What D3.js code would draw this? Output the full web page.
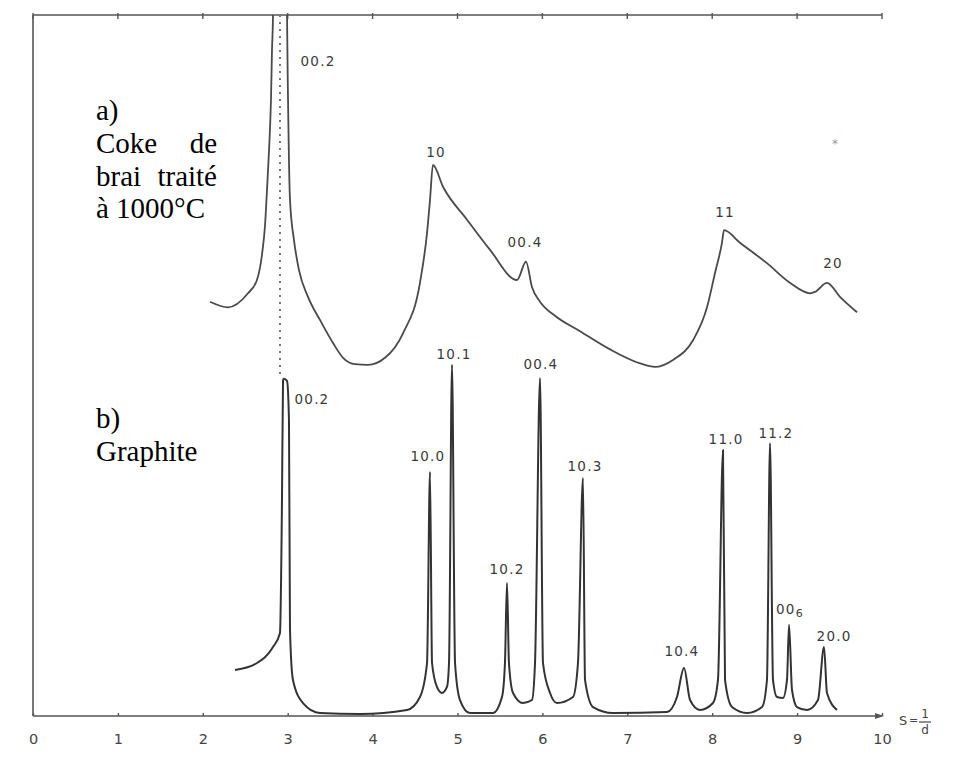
<!DOCTYPE html>
<html><head><meta charset="utf-8">
<script src="https://cdn.jsdelivr.net/npm/d3@7"></script>
<style>
html,body{margin:0;padding:0;background:#fff;}
svg{display:block;}
</style></head>
<body>
<svg id="chart" width="957" height="760"></svg>
<script>
// ---------- data ----------
const sTicks = [0,1,2,3,4,5,6,7,8,9,10];
const sTickLabels = ["0","1","2","3","4","5","6","7","8","9","10"];

// a) Coke de brai traité à 1000°C  (s = 1/d, intensity in arbitrary units)
const cokeS = [2.085,2.297,2.532,2.638,2.697,2.733,2.756,2.780,2.803,2.815,2.827,2.835,2.985,2.992,3.004,3.027,3.074,3.133,3.239,3.380,3.534,3.652,3.793,3.946,4.146,4.358,4.558,4.641,4.676,4.711,4.829,5.112,5.383,5.701,5.807,5.877,5.972,6.148,6.443,6.796,7.150,7.326,7.538,7.774,7.939,8.033,8.115,8.139,8.327,8.645,8.916,9.152,9.211,9.352,9.505,9.706];
const cokeI = [59.1,58.3,60.3,62.2,65.8,70.0,75.0,80.7,87.9,95.0,100,115,115,100,87.9,73.6,67.9,63.6,59.8,56.5,53.2,51.1,50.2,50.1,51.1,54.6,61.8,68.9,73.6,78.6,75.5,70.8,66.5,62.2,64.8,61.2,59.1,57.1,54.9,52.3,50.3,49.8,50.8,53.6,58.3,63.2,67.5,69.3,67.5,64.6,61.8,60.3,60.5,61.8,59.8,57.6];

// b) Graphite
const graphS = [2.379,2.638,2.827,2.909,2.933,2.945,2.956,2.992,3.015,3.027,3.062,3.180,3.380,3.852,4.405,4.558,4.641,4.676,4.700,4.758,4.817,4.876,4.900,4.935,4.971,5.029,5.147,5.418,5.524,5.559,5.583,5.606,5.654,5.771,5.877,5.913,5.972,6.007,6.090,6.172,6.360,6.419,6.478,6.502,6.596,6.832,7.468,7.585,7.668,7.739,7.856,8.009,8.068,8.127,8.151,8.233,8.410,8.587,8.645,8.681,8.716,8.763,8.834,8.881,8.905,8.940,8.999,9.117,9.246,9.317,9.352,9.470];
const graphI = [6.56,7.56,9.84,11.84,31.2,47.9,48.1,47.8,42.2,12.3,5.14,1.85,0.43,0.29,0.86,2.71,7.56,34.8,7.56,4.14,3.28,4.14,7.56,50.1,7.56,2.28,0.43,0.43,2.71,7.56,19.0,7.56,3.28,1.85,2.28,7.56,48.2,7.56,3.28,1.85,2.71,7.56,33.95,5.14,1.28,0.43,0.57,2.71,6.85,2.28,0.86,1.85,5.14,37.9,5.14,1.28,0.43,1.28,5.14,38.9,5.14,2.71,2.57,5.14,13.0,3.71,1.28,0.86,2.28,9.84,3.28,0.86];

// peak labels (text, s, intensity)
const cokeLabelText = ["00.2","10","00.4","11","20"];
const cokeLabelS    = [3.357,4.747,5.795,8.151,9.423];
const cokeLabelI    = [92.7,79.7,66.9,71.2,63.9];

const graphLabelText = ["00.2","10.1","10.0","10.2","00.4","10.3","10.4","11.0","11.2","00|6","20.0"];
const graphLabelS    = [3.286,4.959,4.652,5.583,5.983,6.502,7.644,8.163,8.751,8.916,9.435];
const graphLabelI    = [44.5,50.9,36.4,20.3,49.5,34.9,8.56,38.8,39.7,14.55,10.7];

// dotted guide line linking the two 00.2 reflections
const guideS = [2.909,2.909];
const guideI = [100,48.2];

// ---------- layout ----------
const svg = d3.select("#chart");
const X0 = 33, X1 = 882, YT = 15, YB = 716;
const x = d3.scaleLinear().domain([0,10]).range([X0,X1]);
const y = d3.scaleLinear().domain([0,100]).range([YB,YT]);

svg.append("rect").attr("width",957).attr("height",760).attr("fill","#fff");

svg.append("defs").append("clipPath").attr("id","plotclip")
  .append("rect").attr("x",X0).attr("y",YT).attr("width",X1-X0+40).attr("height",YB-YT);

const axisCol = "#555";
// top frame line with ticks
svg.append("line").attr("x1",X0).attr("x2",X1).attr("y1",YT).attr("y2",YT)
  .attr("stroke",axisCol).attr("stroke-width",1.6);
svg.append("g").selectAll("line").data(sTicks).join("line")
  .attr("x1",d=>x(d)).attr("x2",d=>x(d)).attr("y1",YT-2).attr("y2",YT+4)
  .attr("stroke",axisCol).attr("stroke-width",1.4);
// left axis
svg.append("line").attr("x1",X0).attr("x2",X0).attr("y1",YT).attr("y2",YB)
  .attr("stroke",axisCol).attr("stroke-width",1.6);

// bottom axis using d3 axis
const xAxis = d3.axisBottom(x).tickValues(sTicks).tickFormat((d,i)=>sTickLabels[i])
  .tickSizeInner(-3).tickSizeOuter(0).tickPadding(18);
const gx = svg.append("g").attr("transform",`translate(0,${YB})`).call(xAxis);
gx.select(".domain").remove();
gx.selectAll(".tick line").attr("stroke",axisCol).attr("stroke-width",1.4);
gx.selectAll(".tick text").attr("font-family","DejaVu Sans, sans-serif").attr("font-size",14.5)
  .attr("fill","#444");
svg.append("line").attr("x1",X0).attr("x2",X1).attr("y1",YB).attr("y2",YB)
  .attr("stroke",axisCol).attr("stroke-width",1.6);
svg.append("path").attr("d",`M${X1-7},${YB-3} L${X1+2},${YB} L${X1-7},${YB+3} Z`).attr("fill",axisCol);

// s = 1/d
const sl = svg.append("g").attr("font-family","DejaVu Sans, sans-serif").attr("fill","#444");
sl.append("text").attr("x",X1+17).attr("y",YB+9).attr("font-size",13).text("S");
sl.append("text").attr("x",X1+27).attr("y",YB+8).attr("font-size",11).text("=");
sl.append("text").attr("x",X1+43).attr("y",YB+2).attr("font-size",12).attr("text-anchor","middle").text("1");
sl.append("line").attr("x1",X1+37).attr("x2",X1+49).attr("y1",YB+6).attr("y2",YB+6).attr("stroke","#444").attr("stroke-width",1.2);
sl.append("text").attr("x",X1+43).attr("y",YB+18).attr("font-size",12).attr("text-anchor","middle").text("d");

// dotted guide
svg.append("line")
  .attr("x1",x(guideS[0])).attr("x2",x(guideS[1])).attr("y1",y(guideI[0])).attr("y2",y(guideI[1]))
  .attr("stroke","#777").attr("stroke-width",2).attr("stroke-dasharray","2,5");

// curves
const line = d3.line().x(d=>x(d[0])).y(d=>y(d[1])).curve(d3.curveMonotoneX);
const cokePts = cokeS.map((s,i)=>[s,cokeI[i]]);
const graphPts = graphS.map((s,i)=>[s,graphI[i]]);
const plot = svg.append("g").attr("clip-path","url(#plotclip)");
plot.append("path").datum(cokePts).attr("d",line).attr("fill","none")
  .attr("stroke","#4a4a4a").attr("stroke-width",1.8);
plot.append("path").datum(graphPts).attr("d",line).attr("fill","none")
  .attr("stroke","#333").attr("stroke-width",2);

// peak labels
const lblFont = "DejaVu Sans, sans-serif";
function addLabels(texts, ss, ii){
  texts.forEach((t,i)=>{
    const tx = svg.append("text").attr("x",x(ss[i])).attr("y",y(ii[i]))
      .attr("text-anchor","middle").attr("font-family",lblFont).attr("font-size",13.5)
      .attr("letter-spacing",1.2).attr("fill","#3a3a3a");
    if(t.includes("|")){
      const [a,b] = t.split("|");
      tx.append("tspan").text(a);
      tx.append("tspan").attr("font-size",11).attr("dy",3).text(b);
    } else tx.text(t);
  });
}
addLabels(cokeLabelText, cokeLabelS, cokeLabelI);
addLabels(graphLabelText, graphLabelS, graphLabelI);

// stray mark
svg.append("text").attr("x",x(9.446)).attr("y",y(81.0)).attr("text-anchor","middle")
  .attr("font-family",lblFont).attr("font-size",12).attr("fill","#999").text("*");

// side captions
const cap = svg.append("g").attr("font-family","Liberation Serif, Times New Roman, serif")
  .attr("font-size",29).attr("fill","#000");
cap.append("text").attr("x",96).attr("y",120).text("a)");
cap.append("text").attr("x",96).attr("y",153).text("Coke");
cap.append("text").attr("x",217).attr("y",153).attr("text-anchor","end").text("de");
cap.append("text").attr("x",96).attr("y",186).text("brai");
cap.append("text").attr("x",217).attr("y",186).attr("text-anchor","end").text("traité");
cap.append("text").attr("x",96).attr("y",218).text("à 1000°C");
cap.append("text").attr("x",96).attr("y",428).text("b)");
cap.append("text").attr("x",96).attr("y",461).text("Graphite");
</script>
</body></html>
